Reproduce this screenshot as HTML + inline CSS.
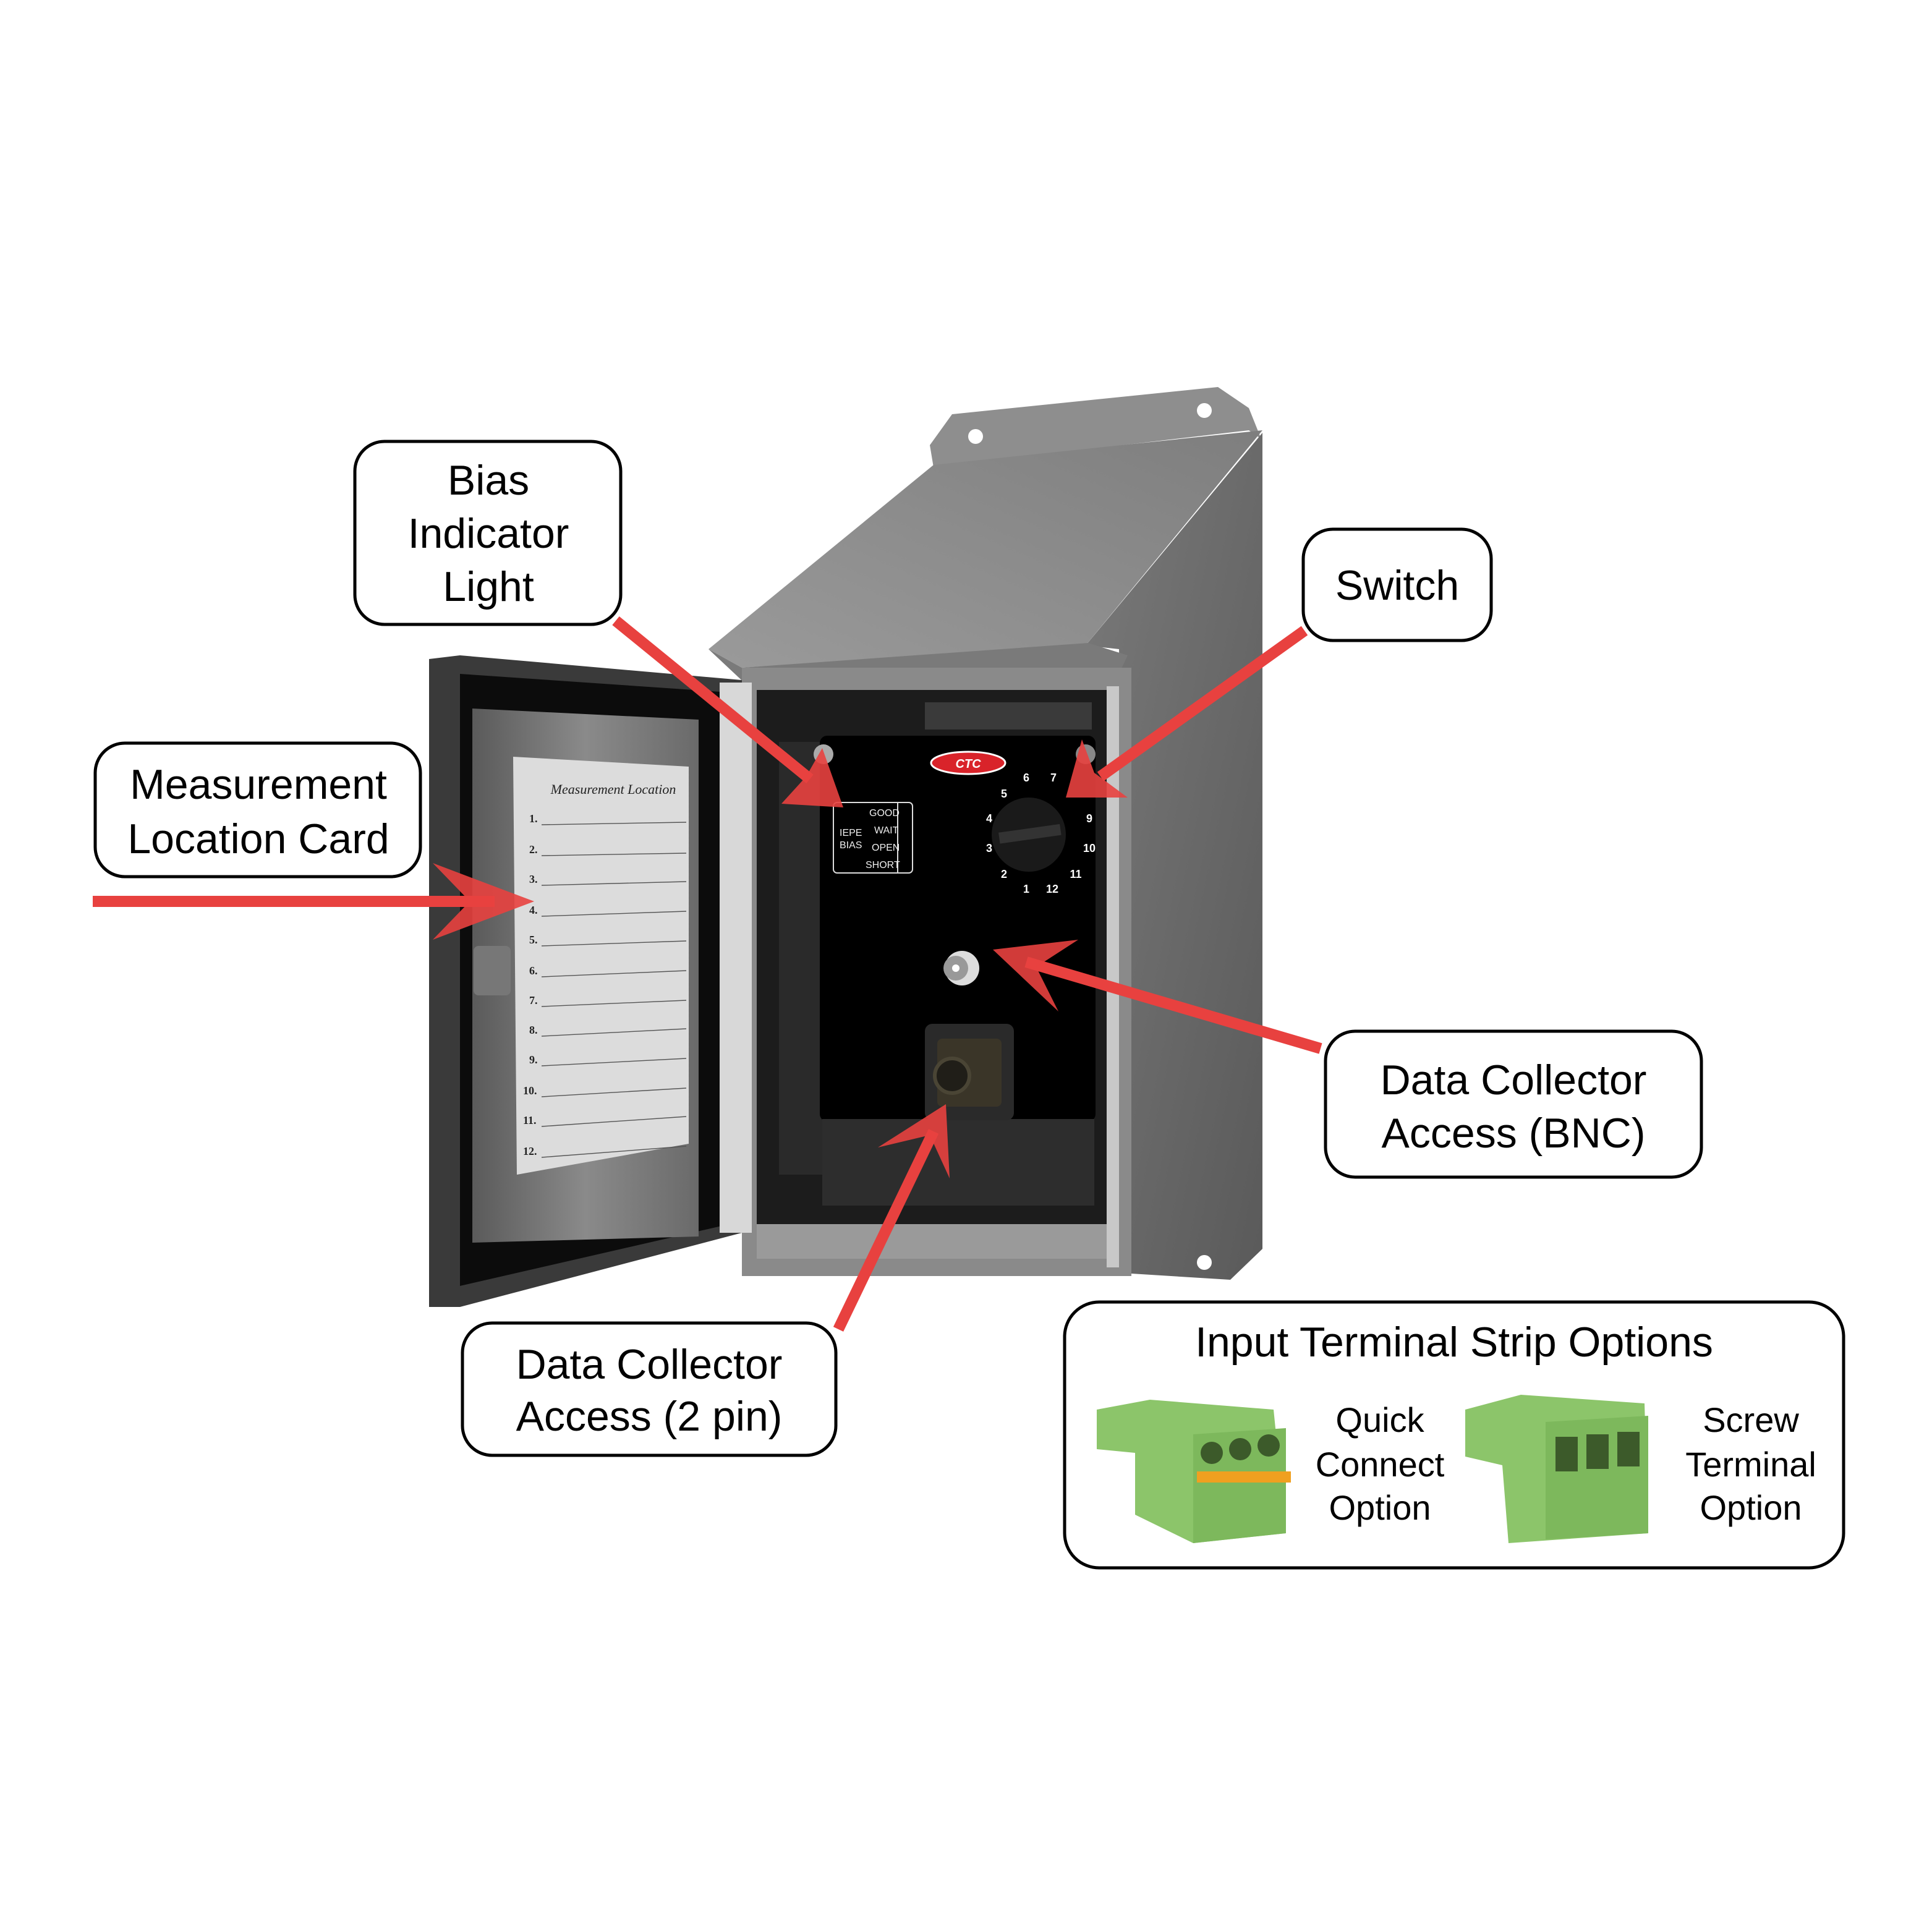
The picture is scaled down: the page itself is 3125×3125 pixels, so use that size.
<!DOCTYPE html>
<html><head><meta charset="utf-8"><style>html,body{margin:0;padding:0;background:#fff}svg{display:block}</style></head><body>
<svg width="3125" height="3125" viewBox="0 0 1562.5 1562.5" xmlns="http://www.w3.org/2000/svg" font-family="Liberation Sans, sans-serif">
<defs>
<linearGradient id="side" x1="0" y1="0" x2="1" y2="1"><stop offset="0" stop-color="#7a7a7a"/><stop offset="1" stop-color="#5a5a5a"/></linearGradient>
<linearGradient id="roof" x1="0" y1="1" x2="1" y2="0"><stop offset="0" stop-color="#9a9a9a"/><stop offset="1" stop-color="#7e7e7e"/></linearGradient>
<linearGradient id="win" x1="0" y1="0" x2="1" y2="0"><stop offset="0" stop-color="#5a5a5a"/><stop offset="0.5" stop-color="#8a8a8a"/><stop offset="1" stop-color="#6a6a6a"/></linearGradient>
</defs>
<rect width="1562.5" height="1562.5" fill="#fff"/>
<polygon points="752,360 770,335 985,313 1010,330 1020,355 1010,348 755,378" fill="#8e8e8e"/>
<circle cx="789" cy="353" r="6" fill="#fff"/><circle cx="974" cy="332" r="6" fill="#fff"/>
<polygon points="878,522 1021,350 1021,1010 995,1035 915,1030 905,525" fill="url(#side)"/>
<polygon points="573,525 755,376 1021,348 878,522 600,540" fill="url(#roof)"/>
<polygon points="573,525 600,540 880,520 912,530 905,545 605,555" fill="#7a7a7a"/>
<circle cx="974" cy="1021" r="6" fill="#fff"/>
<rect x="600" y="540" width="315" height="492" fill="#8a8a8a"/>
<rect x="612" y="558" width="292" height="460" fill="#1c1c1c"/>
<rect x="612" y="990" width="292" height="28" fill="#9a9a9a"/>
<rect x="895" y="555" width="10" height="470" fill="#c8c8c8"/>
<rect x="748" y="568" width="135" height="22" fill="#3a3a3a"/>
<rect x="630" y="600" width="45" height="350" fill="#2a2a2a"/>
<rect x="663" y="595" width="223" height="312" rx="6" fill="#000"/>
<rect x="665" y="905" width="220" height="70" fill="#2d2d2d"/>
<circle cx="666" cy="610" r="8" fill="#aaa"/><circle cx="878" cy="610" r="8" fill="#888"/>
<ellipse cx="783" cy="617" rx="30" ry="9" fill="#d9232a" stroke="#fff" stroke-width="1.5"/>
<text x="783" y="621" font-size="10" font-weight="bold" fill="#fff" text-anchor="middle" font-style="italic">CTC</text>
<g stroke="#ddd" stroke-width="1" fill="none"><rect x="674" y="649" width="64" height="57" rx="3"/><line x1="726" y1="649" x2="726" y2="706"/></g>
<g font-size="8" fill="#eee"><text x="679" y="676">IEPE</text><text x="679" y="686">BIAS</text>
<text x="703" y="660">GOOD</text><text x="707" y="674">WAIT</text><text x="705" y="688">OPEN</text><text x="700" y="702">SHORT</text></g>
<g font-size="9" font-weight="bold" fill="#fff" text-anchor="middle"><text x="830" y="632">6</text><text x="852" y="632">7</text><text x="812" y="645">5</text><text x="800" y="665">4</text><text x="881" y="665">9</text><text x="800" y="689">3</text><text x="881" y="689">10</text><text x="812" y="710">2</text><text x="870" y="710">11</text><text x="830" y="722">1</text><text x="851" y="722">12</text></g>
<circle cx="832" cy="675" r="30" fill="#1a1a1a"/><rect x="808" y="670" width="50" height="9" fill="#333" transform="rotate(-8 832 675)"/>
<circle cx="778" cy="783" r="14" fill="#ddd"/><circle cx="773" cy="783" r="10" fill="#999"/><circle cx="773" cy="783" r="3" fill="#fff"/>
<rect x="748" y="828" width="72" height="78" rx="6" fill="#2a2a2a"/><rect x="758" y="840" width="52" height="55" rx="4" fill="#3a3528"/>
<circle cx="770" cy="870" r="14" fill="#201e18" stroke="#4a4535" stroke-width="3"/>
<polygon points="347,533 372,530 600,550 600,997 372,1057 347,1057" fill="#3a3a3a"/>
<polygon points="372,545 590,560 590,990 372,1040" fill="#0c0c0c"/>
<polygon points="382,573 565,582 565,1000 382,1005" fill="url(#win)"/>
<polygon points="415,612 557,620 557,925 418,950" fill="#dcdcdc"/>
<text x="496" y="642" font-size="11" font-style="italic" font-family="Liberation Serif, serif" fill="#222" text-anchor="middle">Measurement Location</text>
<g font-size="9" font-weight="bold" font-family="Liberation Serif, serif" fill="#222">
<text x="428" y="665">1.</text><text x="428" y="690">2.</text><text x="428" y="714">3.</text><text x="428" y="739">4.</text><text x="428" y="763">5.</text><text x="428" y="788">6.</text><text x="428" y="812">7.</text><text x="428" y="836">8.</text><text x="428" y="860">9.</text><text x="423" y="885">10.</text><text x="423" y="909">11.</text><text x="423" y="934">12.</text></g>
<g stroke="#555" stroke-width="0.7"><line x1="438" y1="667" x2="555" y2="665"/><line x1="438" y1="692" x2="555" y2="690"/><line x1="438" y1="716" x2="555" y2="713"/><line x1="438" y1="741" x2="555" y2="737"/><line x1="438" y1="765" x2="555" y2="761"/><line x1="438" y1="790" x2="555" y2="785"/><line x1="438" y1="814" x2="555" y2="809"/><line x1="438" y1="838" x2="555" y2="832"/><line x1="438" y1="862" x2="555" y2="856"/><line x1="438" y1="887" x2="555" y2="880"/><line x1="438" y1="911" x2="555" y2="903"/><line x1="438" y1="936" x2="555" y2="927"/></g>
<rect x="383" y="765" width="30" height="40" rx="4" fill="#777"/>
<rect x="582" y="552" width="26" height="445" fill="#d8d8d8"/>
<g fill="#e8413f" stroke="#e8413f" stroke-width="9" stroke-linecap="butt">
<line x1="75" y1="729" x2="400" y2="729"/>
<line x1="498" y1="502" x2="655" y2="630"/>
<line x1="1055" y1="510" x2="890" y2="628"/>
<line x1="1068" y1="848" x2="830" y2="778"/>
<line x1="678" y1="1075" x2="755" y2="915"/>
</g>
<g fill="#e8413f" opacity="0.9">
<polygon points="432,729 350,698 380,729 350,760"/>
<polygon points="682,653 632,650 652,628 665,605"/>
<polygon points="862,645 875,598 885,625 912,645"/>
<polygon points="803,768 872,760 838,782 856,818"/>
<polygon points="765,893 768,953 752,918 710,928"/>
</g>
<g fill="#fff" stroke="#000" stroke-width="2.5">
<rect x="287" y="357" width="215" height="148" rx="24"/>
<rect x="1054" y="428" width="152" height="90" rx="24"/>
<rect x="77" y="601" width="263" height="108" rx="24"/>
<rect x="1072" y="834" width="304" height="118" rx="24"/>
<rect x="374" y="1070" width="302" height="107" rx="24"/>
<rect x="861" y="1053" width="630" height="215" rx="28"/>
</g>
<g font-size="34" fill="#000" text-anchor="middle">
<text x="395" y="400">Bias</text><text x="395" y="443">Indicator</text><text x="395" y="486">Light</text>
<text x="1130" y="485">Switch</text>
<text x="209" y="646">Measurement</text><text x="209" y="690">Location Card</text>
<text x="1224" y="885">Data Collector</text><text x="1224" y="928">Access (BNC)</text>
<text x="525" y="1115">Data Collector</text><text x="525" y="1157">Access (2 pin)</text>
<text x="1176" y="1097">Input Terminal Strip Options</text>
</g>
<g font-size="28" fill="#000" text-anchor="middle">
<text x="1116" y="1158">Quick</text><text x="1116" y="1194">Connect</text><text x="1116" y="1229">Option</text>
<text x="1416" y="1158">Screw</text><text x="1416" y="1194">Terminal</text><text x="1416" y="1229">Option</text>
</g>
<polygon points="887,1140 930,1132 1030,1140 1040,1240 965,1248 918,1225 918,1175 887,1172" fill="#8cc56a"/>
<polygon points="965,1160 1040,1155 1040,1240 965,1248" fill="#7db85c"/>
<circle cx="980" cy="1175" r="9" fill="#3c5a2a"/><circle cx="1003" cy="1172" r="9" fill="#3c5a2a"/><circle cx="1026" cy="1169" r="9" fill="#3c5a2a"/>
<rect x="968" y="1190" width="76" height="9" fill="#f0a020"/>
<polygon points="1185,1140 1230,1128 1330,1135 1333,1240 1220,1248 1215,1185 1185,1178" fill="#8cc56a"/>
<polygon points="1250,1150 1333,1145 1333,1240 1250,1245" fill="#7db85c"/>
<rect x="1258" y="1162" width="18" height="28" fill="#3c5a2a"/><rect x="1283" y="1160" width="18" height="28" fill="#3c5a2a"/><rect x="1308" y="1158" width="18" height="28" fill="#3c5a2a"/>
</svg>
</body></html>
